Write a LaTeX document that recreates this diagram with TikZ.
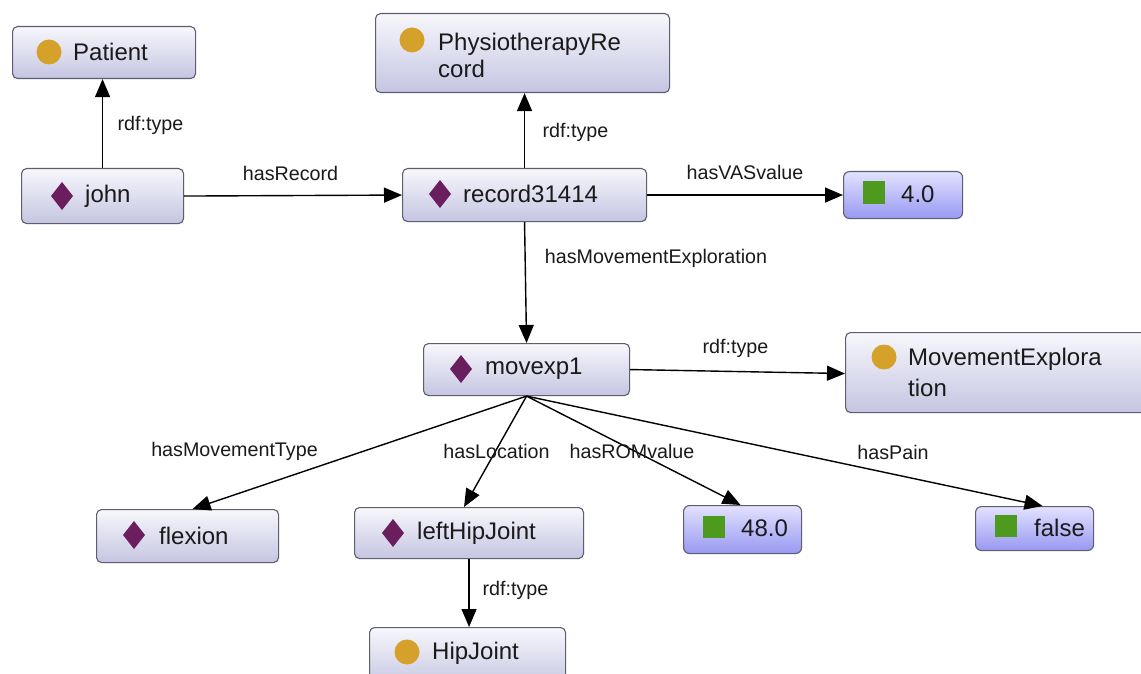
\documentclass[tikz,border=0pt]{standalone}
\usepackage{fontspec}
\setmainfont{Liberation Sans}
\usetikzlibrary{arrows.meta,calc}
\definecolor{boxedge}{HTML}{5E5E70}
\definecolor{clstop}{HTML}{F7F7FC}
\definecolor{clsbot}{HTML}{C5C5E2}
\definecolor{littop}{HTML}{E2E2FF}
\definecolor{litbot}{HTML}{9898F2}
\definecolor{goldc}{HTML}{D6A12A}
\definecolor{indc}{HTML}{6A1E5E}
\definecolor{greenc}{HTML}{4E9A1E}
\definecolor{textc}{HTML}{1A1A1A}
\tikzset{
  cls/.style={draw=boxedge, line width=1.1pt, rounded corners=5pt, top color=clstop, bottom color=clsbot, anchor=north west, inner sep=0pt},
  lit/.style={draw=boxedge, line width=1.1pt, rounded corners=6pt, top color=littop, bottom color=litbot, anchor=north west, inner sep=0pt},
  ntext/.style={font=\fontsize{24}{28}\selectfont, anchor=west, inner sep=0pt, text=textc, align=left},
  elabel/.style={font=\fontsize{19.7}{24}\selectfont, inner sep=0pt, text=textc},
  arr/.style={-{Triangle[length=18pt,width=15pt]}, line width=1.4pt, draw=black},
  circicon/.style={fill=goldc},
  diaicon/.style={fill=indc},
  sqicon/.style={fill=greenc}
}
\newcommand\diaat[1]{\fill[diaicon] ($#1+(-11,0)$) -- ($#1+(0,-14)$) -- ($#1+(11,0)$) -- ($#1+(0,14)$) -- cycle;}
\newcommand\sqat[1]{\fill[sqicon] ($#1+(-11,-11)$) rectangle ($#1+(11,11)$);}
\begin{document}
\begin{tikzpicture}[x=1pt,y=-1pt]
\clip (0,0) rectangle (1141,674);
\fill[white] (0,0) rectangle (1141,674);

% boxes
\node[cls, minimum width=183pt, minimum height=52pt] (patient) at (12,26) {};
\node[cls, minimum width=162pt, minimum height=55pt] (john) at (21,168) {};
\node[cls, minimum width=294pt, minimum height=79pt] (physio) at (375,13) {};
\node[cls, minimum width=244pt, minimum height=53pt] (record) at (402,168) {};
\node[lit, minimum width=119pt, minimum height=47pt] (vas) at (843,171) {};
\node[cls, minimum width=206pt, minimum height=52pt] (movexp) at (423,343) {};
\node[cls, minimum width=310pt, minimum height=80pt] (mexp) at (845,332) {};
\node[cls, minimum width=182pt, minimum height=53pt] (flexion) at (96,509) {};
\node[cls, minimum width=229pt, minimum height=51pt] (lhj) at (354,507) {};
\node[cls, minimum width=196pt, minimum height=60pt] (hipjoint) at (369,627) {};
\node[lit, minimum width=118pt, minimum height=48pt] (rom) at (683,505) {};
\node[lit, minimum width=118pt, minimum height=44pt] (pain) at (975,506) {};

% icons
\fill[circicon] (49,52) circle (12.5);
\diaat{(62,196)}
\fill[circicon] (412,40) circle (12.5);
\diaat{(440,194)}
\sqat{(874,192.5)}
\diaat{(461,369)}
\fill[circicon] (884,357) circle (12.5);
\diaat{(134,535)}
\diaat{(393,533)}
\fill[circicon] (407,652) circle (12.5);
\sqat{(714,527)}
\sqat{(1005.5,526)}

% node texts
\node[ntext] (tpatient) at (73,52) {Patient};
\node[ntext] (tjohn) at (85,196) {john};
\node[ntext, font=\fontsize{24}{27}\selectfont] (tphysio) at (438,55) {PhysiotherapyRe\\cord};
\node[ntext] (trecord) at (463,194) {record31414};
\node[ntext] (tvas) at (901,194) {4.0};
\node[ntext] (tmovexp) at (485,369) {movexp1};
\node[ntext, font=\fontsize{24}{31}\selectfont] (tmexp) at (908,372.5) {MovementExplora\\tion};
\node[ntext] (tflexion) at (159,536) {flexion};
\node[ntext] (tlhj) at (417,533) {leftHipJoint};
\node[ntext] (thip) at (432,653) {HipJoint};
\node[ntext] (trom) at (741,528) {48.0};
\node[ntext] (tpain) at (1034,528) {false};

% connectors
\draw[arr] (john.north) -- (john.north |- patient.south);
\draw[arr] (john.east) -- (record.west);
\draw[arr] (record.north) -- (record.north |- physio.south);
\draw[arr] (record.east) -- (vas.west);
\draw[arr] (record.south) -- (movexp.north);
\draw[arr] (movexp.east) -- ($(mexp.west)+(0,1)$);
\draw[arr] (movexp.south) -- ($(flexion.north)+(5,0)$);
\draw[arr] (movexp.south) -- ($(lhj.north)+(-5,0)$);
\draw[arr] (movexp.south) -- ($(rom.north)+(-2,0)$);
\draw[arr] (movexp.south) -- ($(pain.north)+(8,0)$);
\draw[arr] (lhj.south) -- (lhj.south |- hipjoint.north);

% edge labels
\node[elabel] (l1) at (150.5,125) {rdf:type};
\node[elabel] (l2) at (290.5,173) {hasRecord};
\node[elabel] (l3) at (575.5,132) {rdf:type};
\node[elabel] (l4) at (745,172) {hasVASvalue};
\node[elabel] (l5) at (656,258) {hasMovementExploration};
\node[elabel] (l6) at (735.5,348) {rdf:type};
\node[elabel] (l7) at (234.5,451) {hasMovementType};
\node[elabel] (l8) at (496.5,451) {hasLocation};
\node[elabel] (l9) at (632,451) {hasROMvalue};
\node[elabel] (l10) at (893,452) {hasPain};
\node[elabel] (l11) at (515.5,590) {rdf:type};
\end{tikzpicture}
\end{document}
